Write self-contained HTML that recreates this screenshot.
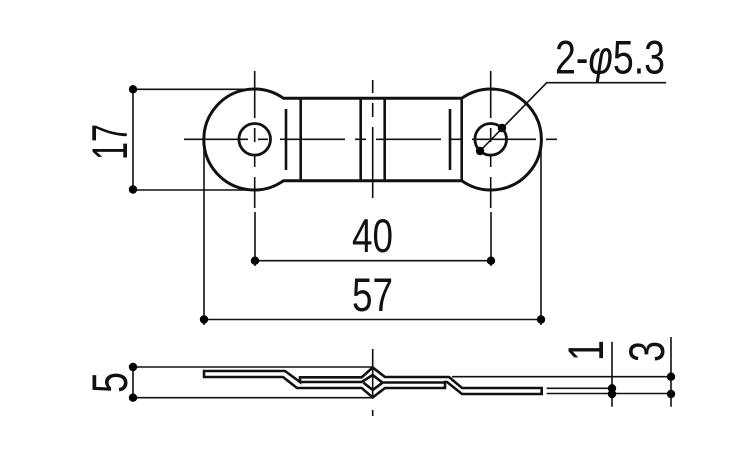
<!DOCTYPE html>
<html><head><meta charset="utf-8"><style>html,body{margin:0;padding:0;background:#fff}svg{display:block}
text{font-family:"Liberation Sans",sans-serif;font-size:47px;fill:#111}
.r{font-size:50px}</style></head><body>
<svg width="750" height="450" viewBox="0 0 750 450" xmlns="http://www.w3.org/2000/svg">
<g fill="none" stroke="#111" stroke-width="3">
<path d="M283.5,98.3 A50.5,50.5 0 1 0 283.5,180.7 L300,180.7 H461.7 A50.5,50.5 0 1 0 461.7,98.3 H300 Z" stroke-width="3"/>
<circle cx="254.7" cy="139.3" r="15.8" stroke-width="2.8"/>
<circle cx="490.7" cy="139.3" r="15.8" stroke-width="2.8"/>
<path d="M300.7,98V181M360.7,98V181M384.7,98V181M461.7,98V181M286,109V170M450,109V170" stroke-width="2.6"/>
<path d="M204,371H285L300,382V377.3H361.7L372.7,367.5L385,377H449L462,388H541.7V394H462L447,382H445V388H385L372.7,397.5L361.7,388H297L283,377H204Z" stroke-width="2.6"/>
<path d="M300,382H361.7L372.7,375L382.5,382.7L372.7,390L363.5,382.7M382.5,382.5H446" stroke-width="2.6"/>
</g>
<g fill="none" stroke="#111" stroke-width="1.6">
<path d="M133,89.3H255M133,190H255M133,89V190M133,367H372M133,397.7H372M133,367V397.7"/>
<path d="M255,212V266M491,212V266M255,260.7H491M204,139V325M541,139V325M204,319.5H541"/>
<path d="M254.7,71V118M254.7,128V142M254.7,155V167M254.7,177V208M184,139.3H248M258,139.3H268M280,139.3H345M355,139.3H366M376,139.3H441M450,139.3H461M472,139.3H536M546,139.3H557"/>
<path d="M490.7,71V118M490.7,128V142M490.7,155V167M490.7,177V208"/>
<path d="M372.7,80V93M372.7,103V117M372.7,127V198M372.7,349V397M372.7,410V416"/>
<path d="M480,151L546.7,82.7H666"/>
<path d="M452,376.7H672M546.7,388.3H612M546.7,393.5H672M612,341.7V406.7M671,337V406.7"/>
</g>
<g fill="#000">
<circle cx="133" cy="89.3" r="4.2"/><circle cx="133" cy="189.5" r="4.2"/><circle cx="133" cy="367" r="4.2"/><circle cx="133" cy="397.7" r="4.2"/>
<circle cx="255" cy="260.7" r="4.2"/><circle cx="491" cy="260.7" r="4.2"/><circle cx="204" cy="319.5" r="4.2"/><circle cx="541" cy="319.5" r="4.2"/>
<circle cx="502" cy="128" r="4.2"/><circle cx="480" cy="151" r="4.2"/>
<circle cx="612" cy="388.3" r="4.2"/><circle cx="612" cy="394" r="4.2"/><circle cx="671" cy="376.7" r="4.2"/><circle cx="671" cy="394" r="4.2"/>
</g>
<text x="555" y="73.5" textLength="110" lengthAdjust="spacingAndGlyphs">2-<tspan font-style="italic">φ</tspan>5.3</text>
<text x="352" y="252" textLength="41" lengthAdjust="spacingAndGlyphs">40</text>
<text x="352" y="311" textLength="41" lengthAdjust="spacingAndGlyphs">57</text>
<text class="r" transform="translate(127,160) rotate(-90)" textLength="36" lengthAdjust="spacingAndGlyphs">17</text>
<text class="r" transform="translate(127,393) rotate(-90)" textLength="21" lengthAdjust="spacingAndGlyphs">5</text>
<text class="r" transform="translate(603,361) rotate(-90)" textLength="21" lengthAdjust="spacingAndGlyphs">1</text>
<text class="r" transform="translate(664,362) rotate(-90)" textLength="21" lengthAdjust="spacingAndGlyphs">3</text>
</svg>
</body></html>
